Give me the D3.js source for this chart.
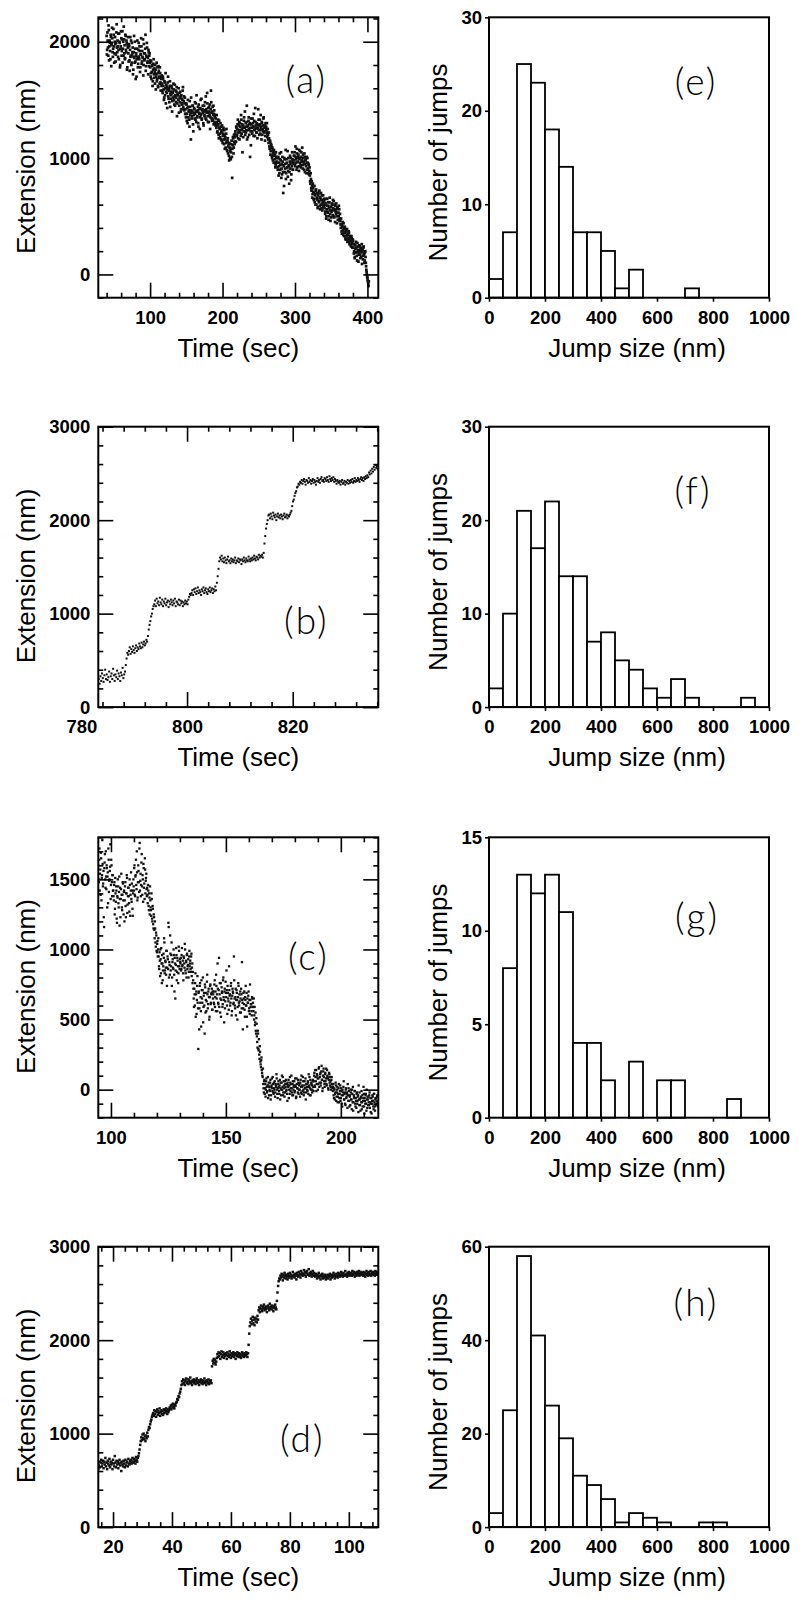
<!DOCTYPE html>
<html><head><meta charset="utf-8">
<script src="https://cdn.jsdelivr.net/npm/d3@7"></script>
<style>body{margin:0;background:#fff}svg{display:block}</style>
</head><body>
<svg id="chart" width="800" height="1602"></svg>
<script>
// ---------------- DATA ----------------
// Panel (a): extension (nm); two interleaved sample sets, each every 0.75 s
const startA = 40, startA2 = 40.375, stepA = 0.75;
const extA = [
2050,1930,2010,1880,2100,1960,1990,1850,2040,1970,2120,1910,1940,2060,1820,2000,1980,1890,2080,1950,
2010,1870,1930,2070,1990,1800,1960,2030,1920,2090,1940,1880,2020,1970,1860,2050,1910,1990,1780,1950,
1900,1980,1840,1930,1870,2010,1820,1890,1950,1760,1910,1860,2000,1830,1880,1700,1940,1870,1810,1990,
1850,1920,1780,1890,1960,1830,1870,2020,1800,1900,1850,1940,1750,1880,1990,1820,1860,1930,1790,1900,
1780,1700,1830,1740,1790,1660,1810,1720,1770,1640,1760,1700,1820,1680,1730,1610,1750,1690,1780,1650,1700,1620,
1640,1560,1680,1590,1520,1650,1600,1470,1630,1560,1590,1700,1510,1580,1620,1440,1570,1540,1600,1490,
1560,1640,1500,1530,1450,1580,1520,1610,1470,1540,1500,1390,1560,1480,1530,1420,1510,1470,1580,1440,
1490,1410,1520,
1420,1350,1460,1380,1300,1440,1400,1330,1490,1370,1160,1410,1360,1450,1290,1390,1430,1340,1380,1470,
1310,1400,1360,1440,1270,1390,1420,1350,1500,1380,1330,1410,1450,1300,1400,1370,1480,1340,1420,1390,
1560,1360,1430,1310,1400,1460,1350,1580,1390,1320,1440,1370,1290,1410,1350,1300,
1340,1260,1310,1230,1290,1200,1320,1250,1180,1270,1220,1150,1240,1190,1260,1120,1200,1160,1090,1210,
1140,1060,1170,1100,1020,1130,1000,1080,1050,1150,830,1110,1170,1090,1140,
1180,1230,1140,1260,1200,1290,1170,1240,1310,1220,1270,1190,1330,1250,1050,1280,1230,1350,1260,1200,
1300,1240,1450,1270,1180,1320,1250,1290,1010,1230,1340,1260,1210,1300,1270,1380,1240,1190,1310,1260,
1220,1290,1250,1420,1280,1200,1330,1240,1270,1160,1300,1250,1230,1350,1220,1280,1190,1260,1240,1300,1210,
1200,1130,1170,1080,1140,1060,1110,1020,1090,980,1050,1070,960,1030,940,1010,970,
960,900,1010,930,870,990,940,1050,910,860,970,700,930,1000,880,950,820,990,920,1060,890,940,780,970,910,1000,860,930,990,900,950,
980,1050,930,1010,960,1080,920,1000,1030,890,990,1060,940,1010,970,1090,910,1000,950,1040,880,980,930,1010,900,960,870,940,890,
850,780,820,720,760,690,740,650,700,620,680,720,600,660,640,580,700,620,660,560,640,600,680,550,620,590,650,
570,520,610,480,560,650,530,590,500,620,550,460,580,540,600,510,570,630,490,550,590,520,560,440,580,530,500,560,480,
460,400,430,350,410,380,440,330,390,360,300,370,340,280,350,310,360,260,320,290,240,310,270,300,
230,180,260,150,220,280,190,120,240,200,170,250,210,140,230,190,90,210,160,240,180,120,200,
100,40,0,-30,-60,-100
];
const extA2 = [
1890,2080,1950,2140,1840,2010,1920,2060,1790,1980,2030,1870,2110,1960,1900,2040,1830,1990,2150,1910,
1960,2070,1850,2000,1780,1940,2090,1880,2020,1820,2000,2130,1900,1850,2060,1930,2010,1760,1970,2040,
1830,1960,1750,2040,1880,1800,1990,1910,1720,1870,2050,1820,1940,1680,1900,1850,2010,1780,1930,1870,
1960,1740,1890,2030,1810,1920,1860,1710,1980,1840,1900,2060,1790,1870,1950,1830,1720,1910,1880,1820,
1840,1730,1680,1800,1620,1760,1850,1690,1740,1800,1590,1720,1660,1780,1620,1790,1700,1640,1730,1580,1680,1710,
1580,1700,1620,1500,1660,1540,1730,1570,1610,1430,1650,1530,1600,1480,1660,1550,1510,1620,1400,1570,
1520,1590,1460,1630,1540,1480,1570,1360,1550,1500,1600,1450,1520,1570,1400,1540,1460,1500,1610,1420,
1530,1470,1380,
1380,1470,1320,1430,1500,1350,1410,1270,1440,1390,1520,1340,1400,1450,1230,1370,1420,1480,1330,1400,
1540,1350,1410,1300,1460,1380,1250,1430,1370,1510,1340,1420,1390,1280,1450,1360,1410,1530,1330,1400,
1470,1310,1390,1440,1370,1250,1420,1480,1340,1400,1330,1450,1380,1310,1370,1280,
1300,1370,1220,1280,1330,1170,1260,1210,1300,1160,1230,1280,1130,1210,1160,1240,1080,1180,1130,1250,
1070,1150,1040,1120,980,1090,1060,990,1120,1010,1080,1180,1040,1200,1120,
1210,1140,1270,1190,1250,1330,1220,1280,1160,1300,1240,1370,1210,1290,1260,1180,1320,1230,1400,1270,
1220,1310,1160,1280,1240,1350,1200,1300,1260,1110,1290,1230,1340,1270,1190,1320,1250,1430,1280,1220,
1300,1170,1260,1330,1240,1290,1210,1370,1250,1310,1200,1280,1340,1230,1260,1150,1300,1270,1220,1180,1250,
1160,1220,1100,1150,1030,1120,1090,1000,1070,1040,960,1020,990,920,1050,960,1000,
920,1000,850,960,1040,900,980,830,950,1010,880,940,760,990,910,1070,870,960,920,840,1000,930,880,1020,950,810,970,1050,900,960,1020,
1020,950,1100,990,900,1040,970,1010,930,1070,960,1000,920,1050,980,940,1030,970,900,1010,950,990,870,960,1000,910,950,860,920,
800,870,740,800,660,780,710,640,760,690,600,730,650,700,570,680,630,720,590,660,700,570,640,610,680,580,630,
600,540,650,500,590,540,620,470,570,660,520,580,490,610,550,640,500,560,600,450,540,610,500,570,470,530,590,460,520,
430,480,370,420,450,340,400,360,410,310,380,330,390,300,340,370,280,330,300,250,330,280,230,290,
260,200,140,250,190,230,160,270,210,110,190,240,170,220,150,260,200,130,230,170,100,190,150,
70,20,-20,-50,-80,-60
];

// Panel (b): extension (nm), sampled every 0.15 s starting at t = 783.3 s
const startB = 783.3, stepB = 0.15;
const extB = [
300,250,330,280,360,310,270,340,400,300,350,290,320,380,270,330,360,300,410,340,280,350,320,390,300,360,330,280,370,340,420,310,350,380,
450,520,580,560,
600,640,570,620,590,650,610,580,630,660,600,640,620,680,650,630,690,640,670,700,660,680,
720,700,760,830,880,920,970,1000,1050,1080,
1100,1140,1080,1160,1110,1130,1090,1170,1120,1100,1150,1080,1130,1110,1160,1090,1120,1140,1070,1130,
1100,1150,1120,1090,1140,1110,1160,1080,1130,1120,1100,1150,1090,1140,1110,1130,1080,1120,1100,
1140,1110,1130,1100,1150,1180,1210,1200,
1220,1250,1200,1260,1230,1270,1210,1240,1280,1220,1250,1230,1200,1260,1240,1280,1220,1250,1270,1230,
1210,1260,1240,1280,1230,1250,1270,1220,1260,1240,1290,1250,
1330,1400,1480,1560,
1600,1580,1620,1560,1590,1550,1600,1570,1540,1580,1610,1560,1570,1540,1590,1560,1580,1550,1570,1600,
1540,1570,1560,1590,1550,1580,1570,1530,1580,1560,1600,1570,1550,1590,1570,1560,1610,1580,1560,1590,
1570,1600,1580,1620,1590,1570,1610,1600,1580,1630,1600,1620,
1610,1630,1600,1650,1750,1830,1910,1960,2000,2050,
2060,2020,2070,2040,2010,2080,2050,2030,2060,2000,2040,2070,2030,2050,2020,2060,2040,2010,2050,2070,2030,2040,2060,2020,2050,2040,
2060,2080,2100,2150,2200,2220,2260,2290,2310,2350,2360,2390,2380,2410,
2400,2430,2390,2420,2440,2410,2380,2430,2420,2400,2450,2410,2430,2390,2420,2440,2400,2430,2410,2380,
2420,2450,2410,2430,2400,2440,2460,2420,2430,2410,2450,2440,2420,2460,2430,2410,2470,2440,2420,2450,
2430,2460,2410,2440,2420,2390,2430,2410,2400,2420,2380,2410,2430,2390,2400,2420,2380,2410,2400,2430,
2390,2420,2400,2430,2410,2440,2400,2420,2450,2410,2430,2420,2450,2430,2410,2440,2460,2430,2450,2420,
2460,2440,2470,2450,
2480,2460,2510,2490,2530,2500,2550,2520,2570,2540,2590,2560,2580,2550
];

// Panel (c): extension (nm); two interleaved sample sets, each every 0.25 s
const startC = 94.5, startC2 = 94.625, stepC = 0.25;
const extC = [
1600,1480,1720,1540,1390,1650,1510,1780,1450,1560,1160,1620,1500,1700,1430,1580,1520,1330,1640,1490,1560,1750,1460,1600,1380,1530,
1420,1350,1480,1290,1400,1450,1220,1380,1500,1330,1410,1170,1440,1360,1540,1300,1390,1470,1250,1420,1350,1480,1230,1400,1510,1320,1440,1380,1270,1460,1390,1550,1340,1420,1240,
1500,1420,1600,1380,1530,1460,1700,1350,1480,1560,1410,1760,1490,1380,1620,1450,1530,1340,1580,1470,1650,1400,1510,1430,
1440,1330,1420,1280,1370,1450,1300,1240,1360,1200,1290,1150,
1230,1080,1150,1020,1100,980,1060,1000,
950,860,920,1000,830,900,960,780,880,940,1050,850,910,820,990,870,930,1190,800,890,1100,850,960,740,910,870,1000,820,940,650,890,960,840,920,760,1020,880,930,
900,850,960,880,920,780,940,870,1000,830,910,960,860,890,800,950,880,920,840,970,870,760,
780,650,720,600,830,680,540,740,620,290,700,580,760,660,450,710,620,800,590,690,400,730,640,560,770,680,610,720,500,660,750,620,690,570,700,
680,620,750,590,700,820,650,560,720,610,940,680,550,760,640,700,590,780,660,480,
720,630,690,850,600,740,650,570,710,680,620,760,530,670,700,610,950,650,580,720,
640,690,500,660,740,600,630,700,550,680,910,620,580,650,700,520,640,600,690,450,
620,670,560,640,750,590,610,530,650,
620,560,500,590,480,420,510,380,300,400,280,250,310,200,160,230,120,90,
40,-20,70,10,-50,60,20,-10,90,30,-40,0,50,-70,20,80,-10,40,-30,10,
60,-20,30,110,0,-60,40,20,-30,70,10,-40,50,0,90,-20,30,-50,60,20,
-10,40,-80,30,70,0,-30,50,10,100,-20,40,-40,20,60,-10,30,-60,80,10,
-20,50,0,40,-50,70,20,-30,30,90,0,-20,60,10,-70,40,20,-10,50,110,
30,-40,70,0,40,-20,60,20,
60,120,20,90,140,40,100,0,80,160,50,110,30,130,70,-10,100,150,60,20,120,80,40,140,90,10,70,110,30,60,0,90,40,
-10,40,-60,0,-30,50,-80,-20,20,-50,10,-90,-30,30,-60,-10,-100,0,-40,60,
-70,-20,-110,10,-50,-30,40,-80,-10,-120,-40,0,-70,-140,-30,20,-90,-50,-10,-100,
-60,-130,-20,-80,-40,30,-110,-70,-150,-50,-10,-90,-120,-60,-30,-170,-80,-40,-100,0,
-130,-70,-50,-110,-20,-90,-160,-60,-100,-40,-80,-140,-30,-120,-70,-60,-100,-50,-90
];
const extC2 = [
1500,1640,1420,1570,1690,1350,1530,1610,1470,1230,1580,1680,1440,1520,1600,1300,1550,1720,1410,1500,1590,1360,1640,1480,1530,1420,
1380,1460,1250,1510,1340,1420,1190,1370,1450,1300,1520,1360,1230,1430,1390,1280,1480,1350,1410,1200,1450,1310,1400,1530,1260,1380,1440,1330,1500,1240,1420,1360,1470,1290,1400,
1450,1580,1390,1520,1640,1430,1550,1370,1600,1480,1720,1420,1540,1460,1680,1390,1500,1610,1440,1360,1570,1490,1540,1380,
1390,1460,1310,1400,1250,1350,1280,1400,1220,1310,1180,1250,
1140,1200,1050,1120,990,1040,950,1080,
880,980,810,930,1010,760,900,850,970,1080,830,920,870,990,740,950,860,1160,910,820,970,880,1050,800,930,860,960,700,900,850,1010,780,940,880,830,990,860,910,
940,860,1010,890,830,950,900,1040,850,920,800,970,880,930,840,990,900,860,950,810,900,840,
720,590,680,760,520,700,640,810,580,690,430,740,620,560,780,650,710,480,670,600,750,550,690,630,820,580,700,660,520,740,610,680,720,570,650,
700,610,780,660,560,740,680,900,620,710,590,760,650,520,730,690,610,800,640,700,
580,770,660,710,540,690,630,880,670,600,740,650,560,720,690,620,780,600,660,530,
710,640,590,760,620,680,550,650,720,580,640,430,690,610,570,660,740,600,520,650,
620,700,580,540,640,610,560,660,590,
590,650,530,460,550,400,470,340,420,290,360,220,270,180,210,140,100,150,
10,60,-30,40,0,80,-20,30,-60,50,20,-10,70,-40,30,10,90,-20,50,0,
-50,40,20,80,-30,10,60,-10,30,-70,50,0,100,20,-40,60,10,-20,40,70,
0,-30,50,20,-60,30,90,-10,40,10,-40,60,0,30,-20,80,20,-50,40,10,
70,-30,30,0,50,-20,100,20,-10,60,-40,30,10,80,-20,40,0,60,-30,20,
90,10,-40,50,30,0,70,-10,
100,30,140,60,-10,110,80,40,150,20,90,120,50,170,70,10,130,90,40,110,60,150,30,100,80,0,120,50,90,20,70,40,10,
20,-40,10,-70,-20,30,-50,0,-90,-30,40,-60,-10,-80,10,-40,-120,-20,20,-70,
-30,-100,0,-60,-20,-130,-40,10,-80,-50,-110,-20,-70,0,-90,-150,-40,-60,-10,-120,
-80,-30,-100,-50,-160,-70,-20,-110,-60,-90,-140,-40,-80,20,-120,-60,-100,-30,-150,-70,
-50,-110,-90,-40,-130,-60,-100,-170,-80,-50,-120,-30,-90,-150,-60,-110,-80,-40,-120
];

// Panel (d): extension (nm), sampled every 0.2 s starting at t = 15 s
const startD = 15, stepD = 0.2;
const extD = [
620,660,700,640,690,720,650,680,710,630,700,670,740,650,690,620,710,680,660,730,
640,700,670,690,620,720,680,650,760,690,640,710,670,700,630,680,720,660,690,600,
700,670,650,710,680,640,720,660,690,700,650,730,680,670,710,690,720,680,740,700,
690,730,710,680,750,720,700,740,
760,790,830,880,920,
960,930,990,950,1000,940,970,920,980,950,1010,970,
1040,1070,1060,1100,1130,1150,1180,1200,
1220,1190,1250,1210,1240,1180,1230,1260,1200,1240,1220,1270,1190,1230,1250,1210,1240,1200,1260,1220,1250,1230,1270,1240,1210,1260,1230,1250,1280,
1270,1300,1260,1310,1280,1320,1290,1270,1310,1300,1330,
1340,1370,1360,1400,1390,1430,1450,1480,1520,
1560,1530,1580,1540,1570,1520,1560,1590,1540,1550,1580,1530,1570,1550,1600,1540,1560,1520,1570,1550,
1580,1540,1560,1530,1570,1590,1550,1540,1570,1520,1560,1550,1580,1540,1570,1530,1560,1550,1590,1540,
1560,1520,1570,1550,1540,1580,1530,1560,1550,1570,1540,
1720,1780,1750,1800,1760,1790,1740,1770,1810,
1850,1820,1870,1830,1860,1800,1850,1880,1820,1840,1870,1810,1850,1830,1860,1840,1800,1870,1830,1850,
1820,1880,1840,1810,1860,1830,1850,1870,1820,1840,1860,1800,1850,1830,1870,1840,1820,1860,1830,1850,
1810,1840,1870,1830,1850,1820,1860,1840,1830,1870,1850,1820,1860,
1950,2070,2150,
2190,2230,2170,2210,2250,2180,2220,2160,2240,2200,2230,2190,2260,2220,
2320,2350,2300,2340,2370,2330,2310,2360,2340,2380,2320,2350,2330,2360,2300,2340,2370,2350,2320,2390,
2340,2360,2330,2370,2350,2310,2360,2340,2380,2350,2330,
2420,2510,2580,2630,2660,
2650,2690,2670,2710,2680,2640,2700,2670,2720,2690,2660,2700,2680,2650,2710,2690,2670,2720,2680,2700,
2660,2690,2730,2680,2700,2670,2710,2690,2650,2720,2700,2680,2730,2690,2710,2670,2740,2700,2720,2690,
2710,2750,2700,2730,2680,2720,2740,2700,2710,2760,2690,2720,2700,2730,2680,2710,2740,2690,2720,2700,
2680,2710,2690,2660,2700,2680,2720,2670,2690,2650,2700,2680,2710,2660,2690,2670,2700,2680,2650,2690,
2670,2700,2660,2690,2680,2710,2650,2690,2670,2700,2680,2720,2690,2660,2700,2680,2710,2690,2670,2720,
2690,2710,2680,2700,2730,2690,2710,2680,2720,2700,2690,2740,2700,2710,2680,2720,2700,2730,2690,2710,
2700,2720,2690,2740,2710,2700,2730,2680,2720,2710,2690,2730,2700,2720,2740,2690,2710,2730,2700,2720,
2710,2690,2730,2700,2720,2680,2710,2740,2700,2720,2690,2730,2710,2700,2740,2690,2720,2710,2730,2700,
2720,2690,2740,2710,2730,2700,2720
];

// Histograms: bin starts (nm) and counts
const binStarts = [0,50,100,150,200,250,300,350,400,450,500,550,600,650,700,750,800,850,900,950];
const countsE = [2,7,25,23,18,14,7,7,5,1,3,0,0,0,1,0,0,0,0,0];
const countsF = [2,10,21,17,22,14,14,7,8,5,4,2,1,3,1,0,0,0,1,0];
const countsG = [0,8,13,12,13,11,4,4,2,0,3,0,2,2,0,0,0,1,0,0];
const countsH = [3,25,58,41,26,19,11,9,6,1,3,2,1,0,0,1,1,0,0,0];

// Tick values
const ticksAx = [100,200,300,400], minorAx = [40,60,80,120,140,160,180,220,240,260,280,320,340,360,380];
const ticksAy = [0,1000,2000], minorAy = [-200,200,400,600,800,1200,1400,1600,1800,2200];
const ticksBx = [780,800,820], minorBx = [784,788,792,796,804,808,812,816,824,828,832,836];
const ticksBy = [0,1000,2000,3000], minorBy = [200,400,600,800,1200,1400,1600,1800,2200,2400,2600,2800];
const ticksCx = [100,150,200], minorCx = [110,120,130,140,160,170,180,190,210];
const ticksCy = [0,500,1000,1500], minorCy = [-200,-100,100,200,300,400,600,700,800,900,1100,1200,1300,1400,1600,1700,1800];
const ticksDx = [20,40,60,80,100], minorDx = [16,24,28,32,36,44,48,52,56,64,68,72,76,84,88,92,96,104,108];
const ticksDy = [0,1000,2000,3000], minorDy = minorBy;
const ticksHistX = [0,200,400,600,800,1000];
const ticksE = [0,10,20,30], ticksF = [0,10,20,30], ticksG = [0,5,10,15], ticksH = [0,20,40,60];

// ---------------- DRAWING ----------------
const svg = d3.select('#chart');
svg.append('rect').attr('width', 800).attr('height', 1602).attr('fill', '#fff');
const FONT = '"Liberation Sans", Arial, Helvetica, sans-serif';
const LETTER_FONT = 'Lato, "Open Sans", "DejaVu Sans", sans-serif';
const W = 280, H = 280.4;
const colL = 98.3, colR = 489;
const rowTops = [17.3, 426.7, 837.3, 1246.7];
const fmt = d3.format('d');

function styleAxis(a, labels) {
  a.select('.domain').remove();
  a.selectAll('.tick line').attr('stroke', '#000').attr('stroke-width', 1.6);
  a.attr('font-family', FONT).attr('font-size', 18.5).attr('font-weight', 'bold');
  a.selectAll('.tick text').attr('fill', '#000');
  if (!labels) a.selectAll('.tick text').remove();
  return a;
}

function frame(g) {
  g.append('rect').attr('width', W).attr('height', H).attr('fill', 'none')
    .attr('stroke', '#000').attr('stroke-width', 2);
}

function letter(g, txt, cx, cy) {
  g.append('text').attr('x', cx).attr('y', cy).attr('text-anchor', 'middle')
    .attr('dominant-baseline', 'central').attr('font-family', LETTER_FONT)
    .attr('font-weight', 300).attr('font-size', 37).attr('letter-spacing', 2).text(txt);
}

function scatterPanel(cfg) {
  const g = svg.append('g').attr('transform', `translate(${colL},${cfg.top})`);
  const x = d3.scaleLinear().domain(cfg.xDomain).range([0, W]);
  const y = d3.scaleLinear().domain(cfg.yDomain).range([H, 0]);
  const cid = 'clip-' + cfg.key;
  g.append('clipPath').attr('id', cid).append('rect').attr('width', W).attr('height', H);
  const s = cfg.dot;
  const pts = g.append('g').attr('clip-path', `url(#${cid})`);
  cfg.series.forEach(ser => {
    pts.append('g').selectAll('rect').data(ser.values).join('rect')
      .attr('x', (d, i) => x(ser.start + i * cfg.step) - s / 2)
      .attr('y', d => y(d) - s / 2)
      .attr('width', s).attr('height', s).attr('fill', '#111');
  });

  const inDomX = v => v >= cfg.xDomain[0] && v <= cfg.xDomain[1];
  const bMaj = g.append('g').attr('transform', `translate(0,${H})`)
    .call(d3.axisBottom(x).tickValues(cfg.xTicks).tickSize(-15).tickPadding(13).tickFormat(fmt));
  styleAxis(bMaj, true);
  bMaj.selectAll('.tick').filter(d => !inDomX(d)).select('line').remove();
  styleAxis(g.append('g').attr('transform', `translate(0,${H})`)
    .call(d3.axisBottom(x).tickValues(cfg.xMinor).tickSize(-5).tickFormat(() => '')), false);
  styleAxis(g.append('g')
    .call(d3.axisTop(x).tickValues(cfg.xTicks.filter(inDomX)).tickSize(-15).tickFormat(() => '')), false);
  styleAxis(g.append('g')
    .call(d3.axisTop(x).tickValues(cfg.xMinor).tickSize(-5).tickFormat(() => '')), false);
  styleAxis(g.append('g')
    .call(d3.axisLeft(y).tickValues(cfg.yTicks).tickSize(-15).tickPadding(8).tickFormat(fmt)), true);
  styleAxis(g.append('g')
    .call(d3.axisLeft(y).tickValues(cfg.yMinor).tickSize(-5).tickFormat(() => '')), false);
  styleAxis(g.append('g').attr('transform', `translate(${W},0)`)
    .call(d3.axisRight(y).tickValues(cfg.yTicks).tickSize(-15).tickFormat(() => '')), false);
  styleAxis(g.append('g').attr('transform', `translate(${W},0)`)
    .call(d3.axisRight(y).tickValues(cfg.yMinor).tickSize(-5).tickFormat(() => '')), false);
  frame(g);

  g.append('text').attr('x', W / 2).attr('y', H + 59).attr('text-anchor', 'middle')
    .attr('font-family', FONT).attr('font-size', 26).text('Time (sec)');
  g.append('text').attr('transform', `translate(${35 - colL},${H / 2 + 9}) rotate(-90)`)
    .attr('text-anchor', 'middle').attr('font-family', FONT).attr('font-size', 26).text('Extension (nm)');
  letter(g, cfg.letter, cfg.lx, cfg.ly);
}

function histPanel(cfg) {
  const g = svg.append('g').attr('transform', `translate(${colR},${cfg.top})`);
  const x = d3.scaleLinear().domain([0, 1000]).range([0, W]);
  const y = d3.scaleLinear().domain([0, cfg.yMax]).range([H, 0]);
  const bw = binStarts[1] - binStarts[0];
  const bins = binStarts.map((b, i) => ({ b, c: cfg.counts[i] })).filter(d => d.c > 0);
  g.selectAll('rect.bar').data(bins).join('rect').attr('class', 'bar')
    .attr('x', d => x(d.b)).attr('y', d => y(d.c))
    .attr('width', d => x(d.b + bw) - x(d.b)).attr('height', d => H - y(d.c))
    .attr('fill', '#fff').attr('stroke', '#000').attr('stroke-width', 1.8);
  frame(g);
  styleAxis(g.append('g').attr('transform', `translate(0,${H})`)
    .call(d3.axisBottom(x).tickValues(ticksHistX).tickSize(4).tickPadding(9).tickFormat(fmt)), true);
  styleAxis(g.append('g')
    .call(d3.axisLeft(y).tickValues(cfg.yTicks).tickSize(4).tickPadding(3).tickFormat(fmt)), true);
  g.append('text').attr('x', W / 2 + 8).attr('y', H + 59).attr('text-anchor', 'middle')
    .attr('font-family', FONT).attr('font-size', 26).text('Jump size (nm)');
  g.append('text').attr('transform', `translate(${447 - colR},${H / 2 + 5}) rotate(-90)`)
    .attr('text-anchor', 'middle').attr('font-family', FONT).attr('font-size', 26).text('Number of jumps');
  letter(g, cfg.letter, cfg.lx, cfg.ly);
}

scatterPanel({ key: 'a', top: rowTops[0], step: stepA, dot: 2.7,
  series: [{ values: extA, start: startA }, { values: extA2, start: startA2 }],
  xDomain: [28.5, 415], yDomain: [-200, 2210], xTicks: ticksAx, xMinor: minorAx, yTicks: ticksAy, yMinor: minorAy,
  letter: '(a)', lx: 208, ly: 61 });
scatterPanel({ key: 'b', top: rowTops[1], step: stepB, dot: 2.0,
  series: [{ values: extB, start: startB }],
  xDomain: [783.2, 836.2], yDomain: [0, 3000], xTicks: ticksBx, xMinor: minorBx, yTicks: ticksBy, yMinor: minorBy,
  letter: '(b)', lx: 208, ly: 193 });
scatterPanel({ key: 'c', top: rowTops[2], step: stepC, dot: 2.3,
  series: [{ values: extC, start: startC }, { values: extC2, start: startC2 }],
  xDomain: [94.5, 216.3], yDomain: [-200, 1800], xTicks: ticksCx, xMinor: minorCx, yTicks: ticksCy, yMinor: minorCy,
  letter: '(c)', lx: 210, ly: 118 });
scatterPanel({ key: 'd', top: rowTops[3], step: stepD, dot: 2.5,
  series: [{ values: extD, start: startD }],
  xDomain: [15, 110], yDomain: [0, 3000], xTicks: ticksDx, xMinor: minorDx, yTicks: ticksDy, yMinor: minorDy,
  letter: '(d)', lx: 204, ly: 191 });

histPanel({ top: rowTops[0], counts: countsE, yMax: 30, yTicks: ticksE, letter: '(e)', lx: 207, ly: 63 });
histPanel({ top: rowTops[1], counts: countsF, yMax: 30, yTicks: ticksF, letter: '(f)', lx: 204, ly: 63 });
histPanel({ top: rowTops[2], counts: countsG, yMax: 15, yTicks: ticksG, letter: '(g)', lx: 208, ly: 78 });
histPanel({ top: rowTops[3], counts: countsH, yMax: 60, yTicks: ticksH, letter: '(h)', lx: 207, ly: 55 });
</script>
</body></html>
